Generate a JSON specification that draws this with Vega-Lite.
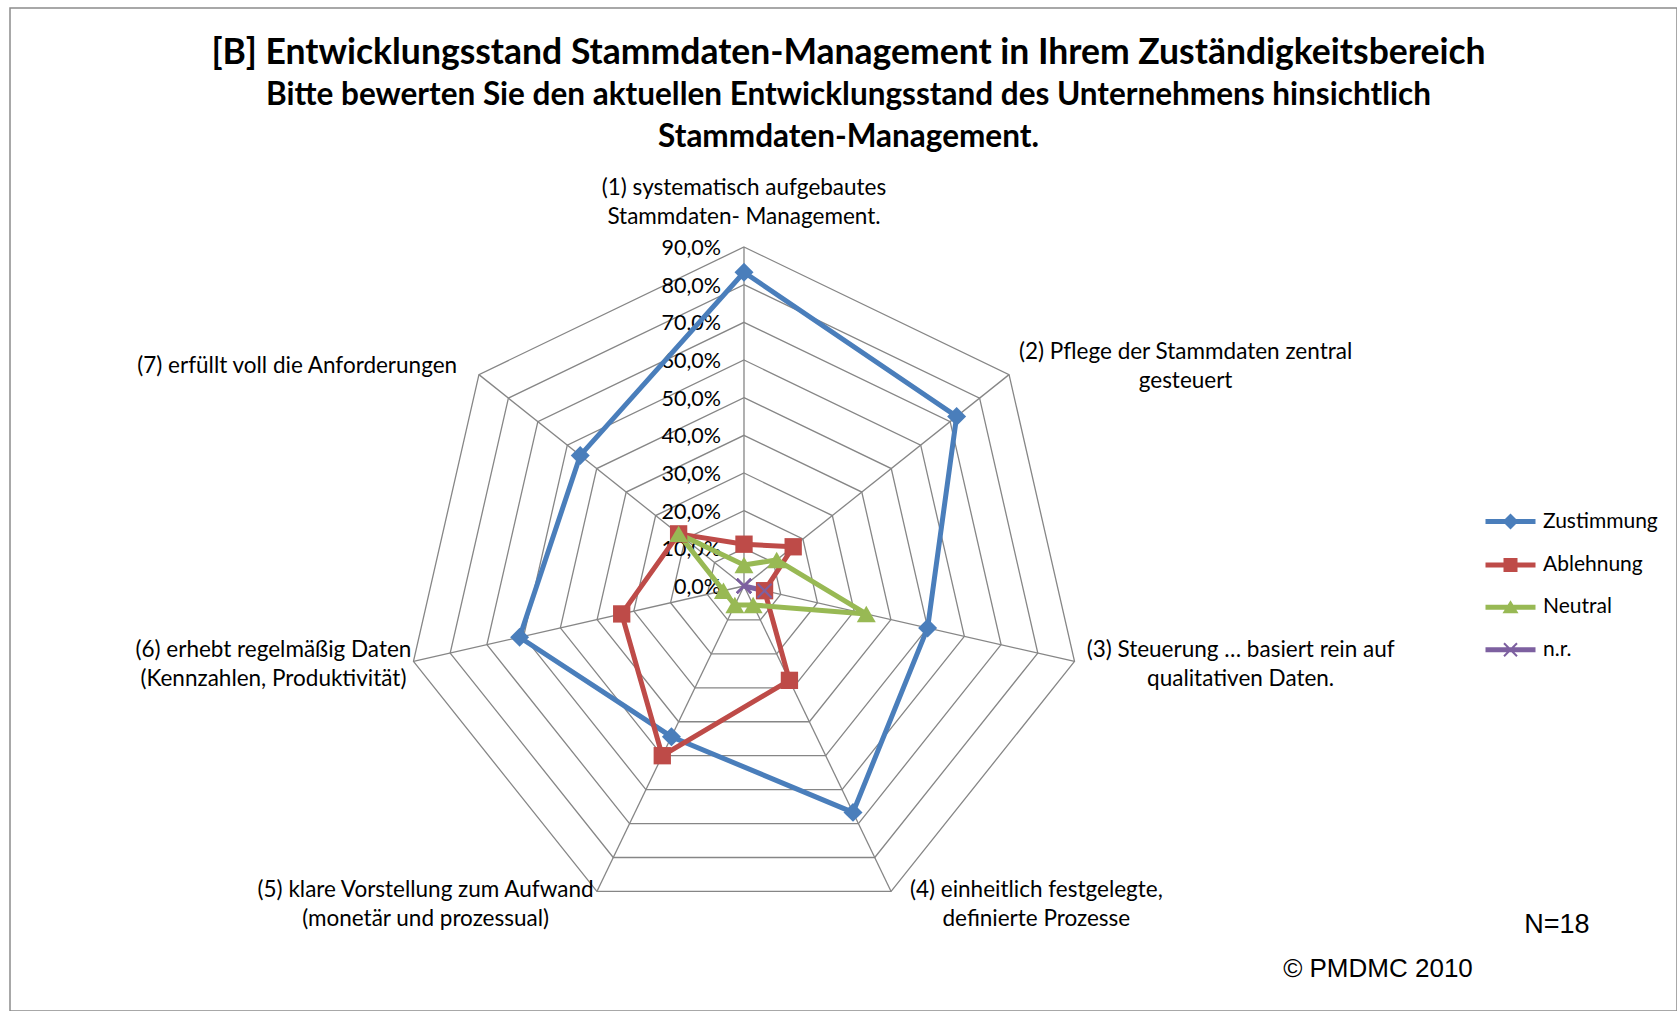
{
  "$schema": "https://vega.github.io/schema/vega-lite/v6.json",
  "width": 1667,
  "height": 1003,
  "autosize": {"type": "none"},
  "padding": {"left": 10, "top": 8, "right": 0, "bottom": 0},
  "background": "white",
  "config": {
    "view": {"stroke": "#8c8c8c", "strokeWidth": 1.5},
    "text": {"font": "Lato", "color": "black"}
  },
  "title": {
    "text": "[B] Entwicklungsstand  Stammdaten-Management  in Ihrem Zuständigkeitsbereich",
    "subtitle": ["Bitte bewerten Sie den aktuellen Entwicklungsstand des Unternehmens hinsichtlich", "Stammdaten-Management."],
    "anchor": "middle",
    "orient": "top",
    "frame": "group",
    "offset": -145,
    "dx": 5,
    "font": "Lato",
    "fontSize": 35.5,
    "fontWeight": "bold",
    "color": "black",
    "subtitleFont": "Lato",
    "subtitleFontSize": 31.5,
    "subtitleFontWeight": "bold",
    "subtitleColor": "black",
    "subtitleLineHeight": 42,
    "subtitlePadding": 8.5
  },
  "data": {
    "values": [
      {"series": "Zustimmung", "axis": 1, "value": 83.3},
      {"series": "Zustimmung", "axis": 2, "value": 72.2},
      {"series": "Zustimmung", "axis": 3, "value": 50.0},
      {"series": "Zustimmung", "axis": 4, "value": 66.7},
      {"series": "Zustimmung", "axis": 5, "value": 44.4},
      {"series": "Zustimmung", "axis": 6, "value": 61.1},
      {"series": "Zustimmung", "axis": 7, "value": 55.6},
      {"series": "Ablehnung", "axis": 1, "value": 11.1},
      {"series": "Ablehnung", "axis": 2, "value": 16.7},
      {"series": "Ablehnung", "axis": 3, "value": 5.6},
      {"series": "Ablehnung", "axis": 4, "value": 27.8},
      {"series": "Ablehnung", "axis": 5, "value": 50.0},
      {"series": "Ablehnung", "axis": 6, "value": 33.3},
      {"series": "Ablehnung", "axis": 7, "value": 22.2},
      {"series": "Neutral", "axis": 1, "value": 5.6},
      {"series": "Neutral", "axis": 2, "value": 11.1},
      {"series": "Neutral", "axis": 3, "value": 33.3},
      {"series": "Neutral", "axis": 4, "value": 5.6},
      {"series": "Neutral", "axis": 5, "value": 5.6},
      {"series": "Neutral", "axis": 6, "value": 5.6},
      {"series": "Neutral", "axis": 7, "value": 22.2},
      {"series": "n.r.", "axis": 1, "value": 0},
      {"series": "n.r.", "axis": 2, "value": 0},
      {"series": "n.r.", "axis": 3, "value": 5.6},
      {"series": "n.r.", "axis": 4, "value": 0},
      {"series": "n.r.", "axis": 5, "value": 0},
      {"series": "n.r.", "axis": 6, "value": 0},
      {"series": "n.r.", "axis": 7, "value": 0}
    ]
  },
  "encoding": {
    "x": {"field": "px", "type": "quantitative", "scale": {"domain": [-194.85, 247.68], "nice": false, "zero": false}, "axis": null},
    "y": {"field": "py", "type": "quantitative", "scale": {"domain": [-112.82, 153.44], "nice": false, "zero": false}, "axis": null}
  },
  "layer": [
    {
      "data": {"values": [
        {"level": 10, "axis": [1, 2, 3, 4, 5, 6, 7]},
        {"level": 20, "axis": [1, 2, 3, 4, 5, 6, 7]},
        {"level": 30, "axis": [1, 2, 3, 4, 5, 6, 7]},
        {"level": 40, "axis": [1, 2, 3, 4, 5, 6, 7]},
        {"level": 50, "axis": [1, 2, 3, 4, 5, 6, 7]},
        {"level": 60, "axis": [1, 2, 3, 4, 5, 6, 7]},
        {"level": 70, "axis": [1, 2, 3, 4, 5, 6, 7]},
        {"level": 80, "axis": [1, 2, 3, 4, 5, 6, 7]},
        {"level": 90, "axis": [1, 2, 3, 4, 5, 6, 7]}
      ]},
      "transform": [
        {"flatten": ["axis"]},
        {"calculate": "(datum.axis - 1) * 2 * PI / 7", "as": "theta"},
        {"calculate": "datum.level * sin(datum.theta)", "as": "px"},
        {"calculate": "datum.level * cos(datum.theta)", "as": "py"}
      ],
      "mark": {"type": "line", "interpolate": "linear-closed", "stroke": "#868686", "strokeWidth": 1.3},
      "encoding": {
        "detail": {"field": "level", "type": "nominal"},
        "order": {"field": "axis", "type": "quantitative"}
      }
    },
    {
      "data": {"values": [
        {"axis": 1}, {"axis": 2}, {"axis": 3}, {"axis": 4}, {"axis": 5}, {"axis": 6}, {"axis": 7}
      ]},
      "transform": [
        {"calculate": "(datum.axis - 1) * 2 * PI / 7", "as": "theta"},
        {"calculate": "90 * sin(datum.theta)", "as": "px"},
        {"calculate": "90 * cos(datum.theta)", "as": "py"}
      ],
      "mark": {"type": "rule", "stroke": "#868686", "strokeWidth": 1.3},
      "encoding": {
        "x2": {"datum": 0},
        "y2": {"datum": 0}
      }
    },
    {
      "data": {"values": [
        {"level": 0}, {"level": 10}, {"level": 20}, {"level": 30}, {"level": 40},
        {"level": 50}, {"level": 60}, {"level": 70}, {"level": 80}, {"level": 90}
      ]},
      "transform": [
        {"calculate": "replace(format(datum.level, '.1f'), '.', ',') + '%'", "as": "lab"},
        {"calculate": "0", "as": "px"},
        {"calculate": "datum.level", "as": "py"}
      ],
      "mark": {"type": "text", "align": "right", "baseline": "middle", "dx": -23, "dy": 2, "font": "Lato", "fontSize": 21.5, "color": "black"},
      "encoding": {"text": {"field": "lab", "type": "nominal"}}
    },
    {
      "data": {"values": [
        {"axis": 1, "label": "(1)  systematisch  aufgebautes\nStammdaten-  Management."},
        {"axis": 2, "label": "(2) Pflege der Stammdaten  zentral\ngesteuert"},
        {"axis": 3, "label": "(3) Steuerung … basiert rein auf\nqualitativen Daten."},
        {"axis": 4, "label": "(4) einheitlich festgelegte,\ndefinierte Prozesse"},
        {"axis": 5, "label": "(5) klare Vorstellung zum Aufwand\n(monetär und prozessual)"},
        {"axis": 6, "label": "(6) erhebt regelmäßig Daten\n(Kennzahlen, Produktivität)"},
        {"axis": 7, "label": "(7)  erfüllt voll die Anforderungen"}
      ]},
      "transform": [
        {"calculate": "(datum.axis - 1) * 2 * PI / 7", "as": "theta"},
        {"calculate": "sin(datum.theta)", "as": "s"},
        {"calculate": "cos(datum.theta)", "as": "c"},
        {"calculate": "indexof(datum.label, '\\n') >= 0 ? indexof(datum.label, '\\n') : length(datum.label)", "as": "len"},
        {"calculate": "90 * datum.s + (abs(datum.s) > 0.1 ? (datum.s > 0 ? 1 : -1) * (datum.len * 1.383 - 0.16) : 0)", "as": "px"},
        {"calculate": "93.7 * datum.c + (datum.axis == 1 ? 8.2 : 0) + (indexof(datum.label, '\\n') >= 0 ? 3.8 : 0)", "as": "py"}
      ],
      "mark": {"type": "text", "align": "center", "baseline": "middle", "lineBreak": "\n", "lineHeight": 29, "font": "Lato", "fontSize": 22.5, "color": "black"},
      "encoding": {"text": {"field": "label", "type": "nominal"}}
    },
    {
      "transform": [
        {"calculate": "(datum.axis - 1) * 2 * PI / 7", "as": "theta"},
        {"calculate": "datum.value * sin(datum.theta)", "as": "px"},
        {"calculate": "datum.value * cos(datum.theta)", "as": "py"}
      ],
      "mark": {"type": "line", "interpolate": "linear-closed", "strokeWidth": 5},
      "encoding": {
        "order": {"field": "axis", "type": "quantitative"},
        "stroke": {
          "field": "series",
          "type": "nominal",
          "scale": {"domain": ["n.r.", "Neutral", "Ablehnung", "Zustimmung"], "range": ["#7D60A0", "#98B954", "#BE4B48", "#4A7EBB"]},
          "legend": null
        }
      }
    },
    {
      "transform": [
        {"filter": "datum.series === 'Zustimmung'"},
        {"calculate": "(datum.axis - 1) * 2 * PI / 7", "as": "theta"},
        {"calculate": "datum.value * sin(datum.theta)", "as": "px"},
        {"calculate": "datum.value * cos(datum.theta)", "as": "py"}
      ],
      "mark": {"type": "point", "shape": "diamond", "filled": true, "opacity": 1, "size": 360},
      "encoding": {
        "fill": {
          "field": "series",
          "type": "nominal",
          "scale": {"domain": ["Neutral", "Zustimmung", "Ablehnung"], "range": ["#98B954", "#4A7EBB", "#BE4B48"]},
          "legend": null
        }
      }
    },
    {
      "transform": [
        {"filter": "datum.series === 'Ablehnung'"},
        {"calculate": "(datum.axis - 1) * 2 * PI / 7", "as": "theta"},
        {"calculate": "datum.value * sin(datum.theta)", "as": "px"},
        {"calculate": "datum.value * cos(datum.theta)", "as": "py"}
      ],
      "mark": {"type": "point", "shape": "square", "filled": true, "opacity": 1, "size": 300},
      "encoding": {
        "fill": {"field": "series", "type": "nominal", "legend": null}
      }
    },
    {
      "transform": [
        {"filter": "datum.series === 'Neutral'"},
        {"calculate": "(datum.axis - 1) * 2 * PI / 7", "as": "theta"},
        {"calculate": "datum.value * sin(datum.theta)", "as": "px"},
        {"calculate": "datum.value * cos(datum.theta)", "as": "py"}
      ],
      "mark": {"type": "point", "shape": "triangle-up", "filled": true, "opacity": 1, "size": 360},
      "encoding": {
        "fill": {"field": "series", "type": "nominal", "legend": null}
      }
    },
    {
      "transform": [
        {"filter": "datum.series === 'n.r.'"},
        {"calculate": "(datum.axis - 1) * 2 * PI / 7", "as": "theta"},
        {"calculate": "datum.value * sin(datum.theta)", "as": "px"},
        {"calculate": "datum.value * cos(datum.theta)", "as": "py"}
      ],
      "mark": {"type": "point", "shape": "M-1,-1L1,1M-1,1L1,-1", "filled": false, "opacity": 1, "size": 196, "strokeWidth": 2.2},
      "encoding": {
        "stroke": {"field": "series", "type": "nominal", "legend": null}
      }
    },
    {
      "transform": [
        {"filter": "datum.axis > 100"},
        {"calculate": "datum.value", "as": "px"},
        {"calculate": "datum.value", "as": "py"}
      ],
      "mark": {"type": "point", "filled": true, "opacity": 1},
      "encoding": {
        "color": {
          "field": "series",
          "type": "nominal",
          "scale": {"domain": ["Zustimmung", "Ablehnung", "Neutral", "n.r."], "range": ["#4A7EBB", "#BE4B48", "#98B954", "#7D60A0"]},
          "legend": {
            "orient": "none",
            "legendX": 1490,
            "legendY": 503,
            "title": null,
            "padding": 0,
            "symbolSize": 100,
            "labelOffset": 22,
            "rowPadding": 20.4,
            "labelFont": "Lato",
            "labelFontSize": 21,
            "labelColor": "black",
            "symbolOpacity": 1
          }
        },
        "shape": {
          "field": "series",
          "type": "nominal",
          "scale": {
            "domain": ["Zustimmung", "Ablehnung", "Neutral", "n.r."],
            "range": [
              "M-5,-0.5H5V0.5H-5ZM0,-1.6L1.6,0L0,1.6L-1.6,0Z",
              "M-5,-0.5H5V0.5H-5ZM-1.4,-1.4H1.4V1.4H-1.4Z",
              "M-5,-0.5H5V0.5H-5ZM0,-1.4L1.6,1.2L-1.6,1.2Z",
              "M-5,-0.5H5V0.5H-5ZM-1.159,-1.441L1.441,1.159L1.159,1.441L-1.441,-1.159ZM-1.159,1.441L-1.441,1.159L1.159,-1.441L1.441,-1.159Z"
            ]
          },
          "legend": {
            "orient": "none",
            "legendX": 1490,
            "legendY": 503,
            "title": null,
            "padding": 0,
            "symbolSize": 100,
            "labelOffset": 22,
            "rowPadding": 20.4,
            "labelFont": "Lato",
            "labelFontSize": 21,
            "labelColor": "black",
            "symbolOpacity": 1
          }
        }
      }
    },
    {
      "data": {"values": [{"note": "N=18"}]},
      "transform": [
        {"calculate": "215.8", "as": "px"},
        {"calculate": "-90.0", "as": "py"}
      ],
      "mark": {"type": "text", "align": "center", "baseline": "middle", "font": "Liberation Sans", "fontSize": 27, "color": "black"},
      "encoding": {"text": {"field": "note", "type": "nominal"}}
    },
    {
      "data": {"values": [{"note": "© PMDMC 2010"}]},
      "transform": [
        {"calculate": "168.3", "as": "px"},
        {"calculate": "-101.7", "as": "py"}
      ],
      "mark": {"type": "text", "align": "center", "baseline": "middle", "font": "Liberation Sans", "fontSize": 26, "color": "black"},
      "encoding": {"text": {"field": "note", "type": "nominal"}}
    }
  ]
}
